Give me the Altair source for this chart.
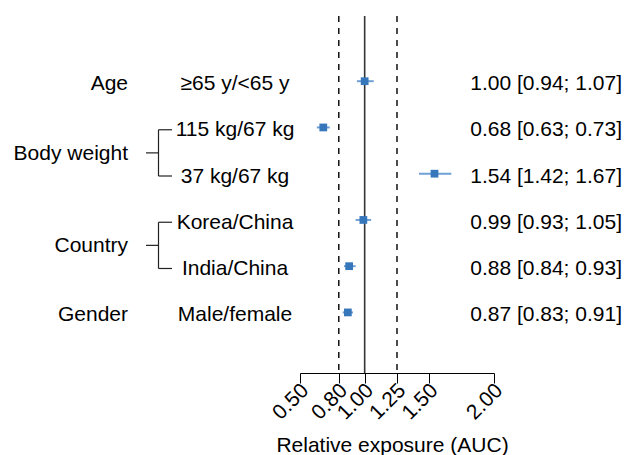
import altair as alt
import pandas as pd

# ---- data ----
subgroups = ["≥65 y/<65 y", "115 kg/67 kg", "37 kg/67 kg", "Korea/China", "India/China", "Male/female"]
est = [1.00, 0.68, 1.54, 0.99, 0.88, 0.87]
lo = [0.94, 0.63, 1.42, 0.93, 0.84, 0.83]
hi = [1.07, 0.73, 1.67, 1.05, 0.93, 0.91]
rows = [1, 2, 3, 4, 5, 6]

groups = ["Age", "Body weight", "Country", "Gender"]
group_rows = [1, 2.5, 4.5, 6]
bracket_top = [2, 4]
bracket_bottom = [3, 5]

ref_solid = [1.00]
ref_dashed = [0.80, 1.25]
tick_values = [0.50, 0.80, 1.00, 1.25, 1.50, 2.00]
x_title = "Relative exposure (AUC)"

# ---- tables ----
df = pd.DataFrame({"row": rows, "label": subgroups, "est": est, "lo": lo, "hi": hi})
df["txt"] = [f"{e:.2f} [{l:.2f}; {h:.2f}]" for e, l, h in zip(est, lo, hi)]
gdf = pd.DataFrame({"row": group_rows, "group": groups})
bdf = pd.DataFrame({"top": bracket_top, "bottom": bracket_bottom})
bdf["mid"] = (bdf["top"] + bdf["bottom"]) / 2
bends = pd.DataFrame({"row": bracket_top + bracket_bottom})
ref_s = pd.DataFrame({"v": ref_solid})
ref_d = pd.DataFrame({"v": ref_dashed})

# ---- layout ----
W, H = 194, 357
FONT = "Liberation Sans"
FS = 21
TXT_DY = 3
OFF = 0.05  # bracket ends aligned with text centers

xscale = alt.Scale(domain=[0.5, 2.0], nice=False, zero=False)
yscale = alt.Scale(domain=[-0.41, 7.31], reverse=True, nice=False, zero=False)
xaxis = alt.Axis(
    values=tick_values, format=".2f", grid=False,
    domain=True, domainColor="black", domainWidth=1,
    ticks=True, tickColor="black", tickSize=10, tickWidth=1,
    labelAngle=315, labelAlign="right", labelBaseline="middle",
    labelOverlap=False, labelFlush=False, labelBound=False,
    labelOffset=5, labelPadding=4,
    labelFontSize=FS, labelFont=FONT, labelColor="black",
    title=x_title, titleFontSize=FS, titleFont=FONT, titleFontWeight="normal",
    titleColor="black", titleX=92, titleY=78, titleBaseline="alphabetic",
    titleAlign="center",
)

solid = alt.Chart(ref_s).mark_rule(color="#333333", strokeWidth=1.6).encode(
    x=alt.X("v:Q", scale=xscale, axis=xaxis), y=alt.value(0), y2=alt.value(H)
)
dashed = alt.Chart(ref_d).mark_rule(color="black", strokeWidth=1.4, strokeDash=[6, 6]).encode(
    x=alt.X("v:Q", scale=xscale, axis=xaxis), y=alt.value(0), y2=alt.value(H)
)

base = alt.Chart(df)
ci = base.mark_rule(color="#6fa0d6", strokeWidth=2).encode(
    x=alt.X("lo:Q", scale=xscale, axis=xaxis), x2="hi:Q",
    y=alt.Y("row:Q", scale=yscale, axis=None),
)
pts = base.mark_square(color="#3676bb", size=60, opacity=1).encode(
    x=alt.X("est:Q", scale=xscale, axis=xaxis),
    y=alt.Y("row:Q", scale=yscale, axis=None),
)
sub_txt = base.mark_text(align="center", baseline="middle", font=FONT, fontSize=FS,
                         color="black", dy=TXT_DY).encode(
    x=alt.value(-65), y=alt.Y("row:Q", scale=yscale, axis=None), text="label:N"
)
val_txt = base.mark_text(align="right", baseline="middle", font=FONT, fontSize=FS,
                         color="black", dy=TXT_DY).encode(
    x=alt.value(322), y=alt.Y("row:Q", scale=yscale, axis=None), text="txt:N"
)
grp_txt = alt.Chart(gdf).mark_text(align="right", baseline="middle", font=FONT, fontSize=FS,
                                   color="black", dy=TXT_DY).encode(
    x=alt.value(-172), y=alt.Y("row:Q", scale=yscale, axis=None), text="group:N"
)

bcol = "#222222"
bw = 1.2
stub = alt.Chart(bdf).transform_calculate(m=f"datum.mid + {OFF}").mark_rule(color=bcol, strokeWidth=bw).encode(
    x=alt.value(-154), x2=alt.value(-141.5), y=alt.Y("m:Q", scale=yscale, axis=None)
)
vert = alt.Chart(bdf).transform_calculate(
    t=f"datum.top + {OFF}", b=f"datum.bottom + {OFF}"
).mark_rule(color=bcol, strokeWidth=bw).encode(
    x=alt.value(-141.5), y=alt.Y("t:Q", scale=yscale, axis=None), y2="b:Q"
)
ends = alt.Chart(bends).transform_calculate(r=f"datum.row + {OFF}").mark_rule(color=bcol, strokeWidth=bw).encode(
    x=alt.value(-141.5), x2=alt.value(-128), y=alt.Y("r:Q", scale=yscale, axis=None)
)

chart = alt.layer(dashed, solid, ci, pts, sub_txt, val_txt, grp_txt, stub, vert, ends).properties(
    width=W, height=H,
    padding={"left": 300, "top": 16, "right": 627 - 300 - W, "bottom": 455 - 16 - H},
    autosize=alt.AutoSizeParams(type="none"),
    background="white",
).configure_view(stroke=None)

chart.save("out.html", embed_options={"renderer": "svg", "actions": False})
